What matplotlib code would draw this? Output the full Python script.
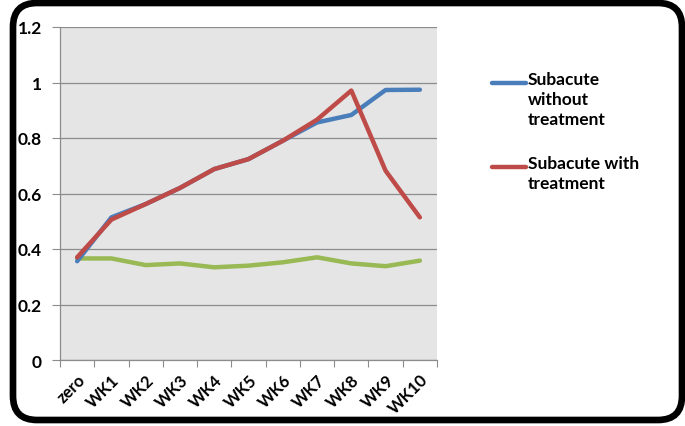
import matplotlib
matplotlib.use("Agg")
import matplotlib.pyplot as plt
from matplotlib.patches import FancyBboxPatch
from matplotlib.lines import Line2D

# weekly readings
weeks = ["zero", "WK1", "WK2", "WK3", "WK4", "WK5", "WK6", "WK7", "WK8", "WK9", "WK10"]
without_treatment = [0.356, 0.514, 0.562, 0.620, 0.688, 0.724, 0.790, 0.856, 0.883, 0.973, 0.974]
with_treatment = [0.370, 0.506, 0.562, 0.620, 0.688, 0.724, 0.790, 0.866, 0.971, 0.682, 0.514]
control = [0.366, 0.366, 0.342, 0.348, 0.334, 0.340, 0.352, 0.370, 0.348, 0.338, 0.358]

legend_labels = ["Subacute\nwithout\ntreatment", "Subacute with\ntreatment"]
colors = ["#4A7EBB", "#BE4B48", "#98B954"]

plt.rcParams['font.family'] = ['Lato', 'DejaVu Sans']

fig = plt.figure(figsize=(6.85, 4.27), dpi=100)
fig.patch.set_facecolor("white")

# rounded outer frame
frame = FancyBboxPatch((13 / 685, 6 / 427), 669 / 685, 417 / 427,
                       boxstyle="round,pad=0,rounding_size=0.035",
                       transform=fig.transFigure, facecolor="none",
                       edgecolor="black", linewidth=4.8, mutation_aspect=685 / 427)
fig.add_artist(frame)

ax = fig.add_axes([60 / 685, 1 - 361 / 427, 377 / 685, 333 / 427])
ax.set_facecolor("#E5E5E5")

x = list(range(len(weeks)))
ax.plot(x, control, color=colors[2], lw=3.2, solid_capstyle="round", zorder=3)
ax.plot(x, without_treatment, color=colors[0], lw=3.2, solid_capstyle="round", zorder=4)
ax.plot(x, with_treatment, color=colors[1], lw=3.2, solid_capstyle="round", zorder=5)

ax.set_xlim(-0.5, len(weeks) - 0.5)
ax.set_ylim(0, 1.2)
ax.set_yticks([0, 0.2, 0.4, 0.6, 0.8, 1.0, 1.2])
ax.set_yticklabels(["0", "0.2", "0.4", "0.6", "0.8", "1", "1.2"],
                   fontsize=12.5, fontweight="bold")
ax.yaxis.grid(True, color="#8C8C8C", lw=0.9)
ax.set_axisbelow(True)

# boundary ticks between categories, labels at the centres
ax.set_xticks([i - 0.5 for i in range(len(weeks) + 1)])
ax.set_xticklabels([])
ax.set_xticks(x, minor=True)
ax.set_xticklabels(weeks, minor=True, rotation=45, ha="right", va="top",
                   rotation_mode="anchor", fontsize=12, fontweight="bold")
ax.tick_params(axis="x", which="minor", length=0, pad=8)
ax.tick_params(axis="x", which="major", length=5, color="#8C8C8C")
ax.tick_params(axis="y", length=6, color="#8C8C8C", pad=7)

for s in ["top", "right"]:
    ax.spines[s].set_visible(False)
for s in ["left", "bottom"]:
    ax.spines[s].set_color("#8C8C8C")
    ax.spines[s].set_linewidth(0.9)

# legend, handle level with the first text line
legend_y = [84, 168]
for label, color, ly in zip(legend_labels, colors[:2], legend_y):
    yf = 1 - ly / 427
    fig.add_artist(Line2D([492 / 685, 526 / 685], [yf, yf], color=color, lw=3.2,
                          solid_capstyle="round", transform=fig.transFigure))
    fig.text(528 / 685, yf + 12 / 427, label, fontsize=12.5, fontweight="bold",
             ha="left", va="top", linespacing=1.3)

fig.savefig("out.png", dpi=100)
